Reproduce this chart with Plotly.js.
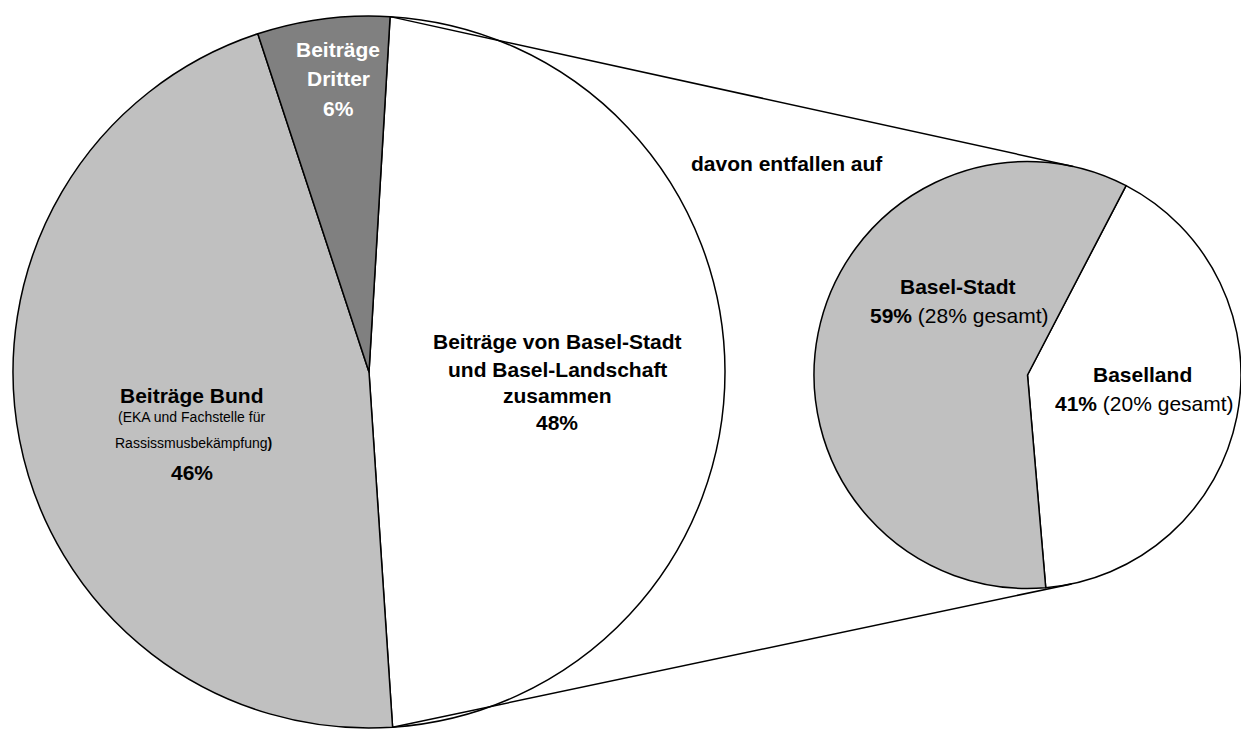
<!DOCTYPE html>
<html>
<head>
<meta charset="utf-8">
<script src="https://cdn.plot.ly/plotly-3.0.1.min.js"></script>
<style>
html, body { margin: 0; padding: 0; background: #ffffff; overflow: hidden; }
#chart { width: 1241px; height: 731px; }
</style>
</head>
<body>
<div id="chart"></div>
<script>
// ---- data ----
const mainLabels = ['Beiträge von Basel-Stadt und Basel-Landschaft zusammen', 'Beiträge Bund', 'Beiträge Dritter'];
const mainValues = [48, 46, 6];
const mainColors = ['#ffffff', '#c0c0c0', '#808080'];

const subLabels = ['Baselland', 'Basel-Stadt'];
const subValues = [41, 59];
const subTotalShare = [20, 28];
const subColors = ['#ffffff', '#c0c0c0'];

// ---- geometry ----
const W = 1241, H = 731;
const FONT = 'Liberation Sans, Arial, Helvetica, sans-serif';
const mainRotation = 3.4;   // degrees clockwise from 12 o'clock
const subRotation = 27.5;

const mainBox = { x0: 13, x1: 725, y0: 16, y1: 728 };
const subBox = { x0: 814, x1: 1241, y0: 160, y1: 590 };

const px = x => x / W;
const py = y => 1 - y / H;

function circleOf(b) {
  const w = b.x1 - b.x0, h = b.y1 - b.y0;
  return { cx: (b.x0 + b.x1) / 2, cy: (b.y0 + b.y1) / 2, r: Math.min(w, h) / 2 };
}
const mainC = circleOf(mainBox);
const subC = circleOf(subBox);

const sum = a => a.reduce((s, v) => s + v, 0);
function pointAt(c, deg) {
  const a = deg * Math.PI / 180;
  return [c.cx + c.r * Math.sin(a), c.cy - c.r * Math.cos(a)];
}
// start / end angle of the first (exploded) slice of the main pie
const startDeg = mainRotation;
const endDeg = mainRotation + 360 * mainValues[0] / sum(mainValues);
const pTop = pointAt(mainC, startDeg);
const pBot = pointAt(mainC, endDeg);

function tangentPoint(P, c, upper) {
  const dx = c.cx - P[0], dy = c.cy - P[1];
  const L = Math.hypot(dx, dy);
  const theta = Math.atan2(dy, dx);
  const alpha = Math.asin(c.r / L);
  const ang = upper ? theta - alpha : theta + alpha;
  const len = Math.sqrt(L * L - c.r * c.r);
  return [P[0] + len * Math.cos(ang), P[1] + len * Math.sin(ang)];
}
const tTop = tangentPoint(pTop, subC, true);
const tBot = tangentPoint(pBot, subC, false);

const traces = [
  {
    type: 'pie',
    labels: mainLabels,
    values: mainValues,
    sort: false,
    direction: 'clockwise',
    rotation: mainRotation,
    marker: { colors: mainColors, line: { color: '#000000', width: 1.5 } },
    textinfo: 'none',
    hoverinfo: 'label+percent',
    showlegend: false,
    domain: { x: [px(mainBox.x0), px(mainBox.x1)], y: [py(mainBox.y1), py(mainBox.y0)] }
  },
  {
    type: 'pie',
    labels: subLabels,
    values: subValues,
    sort: false,
    direction: 'clockwise',
    rotation: subRotation,
    marker: { colors: subColors, line: { color: '#000000', width: 1.5 } },
    textinfo: 'none',
    hoverinfo: 'label+percent',
    showlegend: false,
    domain: { x: [px(subBox.x0), 1], y: [py(subBox.y1), py(subBox.y0)] }
  }
];

function ann(text, x, y, size, color) {
  return {
    text: text, x: px(x), y: py(y), xref: 'paper', yref: 'paper',
    xanchor: 'center', yanchor: 'middle', showarrow: false,
    font: { family: FONT, size: size, color: color || '#000000' }
  };
}

const annotations = [
  // Beiträge Dritter
  ann('<b>Beiträge</b>', 338, 49, 21, '#ffffff'),
  ann('<b>Dritter</b>', 338, 78, 21, '#ffffff'),
  ann('<b>' + mainValues[2] + '%</b>', 338, 108, 21, '#ffffff'),
  // Beiträge Bund
  ann('<b>Beiträge Bund</b>', 192, 395, 21),
  ann('(EKA und Fachstelle für', 191, 417, 14),
  ann('Rassissmusbekämpfung<b>)</b>', 193, 443, 14),
  ann('<b>' + mainValues[1] + '%</b>', 192, 472, 21),
  // Basel-Stadt + Basel-Landschaft
  ann('<b>Beiträge von Basel-Stadt</b>', 557, 341, 21),
  ann('<b>und Basel-Landschaft</b>', 557, 369, 21),
  ann('<b>zusammen</b>', 557, 395, 21),
  ann('<b>' + mainValues[0] + '%</b>', 557, 423, 21),
  // connector caption
  ann('<b>davon entfallen auf</b>', 787, 163, 21),
  // sub pie
  ann('<b>' + subLabels[1] + '</b>', 958, 287, 21),
  ann('<b>' + subValues[1] + '%</b> (' + subTotalShare[1] + '% gesamt)', 959, 315, 21),
  ann('<b>' + subLabels[0] + '</b>', 1142, 374, 21),
  ann('<b>' + subValues[0] + '%</b> (' + subTotalShare[0] + '% gesamt)', 1144, 403, 21)
];

const shapes = [
  { type: 'line', xref: 'paper', yref: 'paper', x0: px(pTop[0]), y0: py(pTop[1]), x1: px(tTop[0]), y1: py(tTop[1]),
    line: { color: '#000000', width: 1.5 } },
  { type: 'line', xref: 'paper', yref: 'paper', x0: px(pBot[0]), y0: py(pBot[1]), x1: px(tBot[0]), y1: py(tBot[1]),
    line: { color: '#000000', width: 1.5 } }
];

const layout = {
  width: W, height: H,
  margin: { l: 0, r: 0, t: 0, b: 0, pad: 0 },
  paper_bgcolor: '#ffffff',
  plot_bgcolor: '#ffffff',
  showlegend: false,
  font: { family: FONT, color: '#000000' },
  annotations: annotations,
  shapes: shapes
};

Plotly.newPlot('chart', traces, layout, { displayModeBar: false, staticPlot: true });
</script>
</body>
</html>
